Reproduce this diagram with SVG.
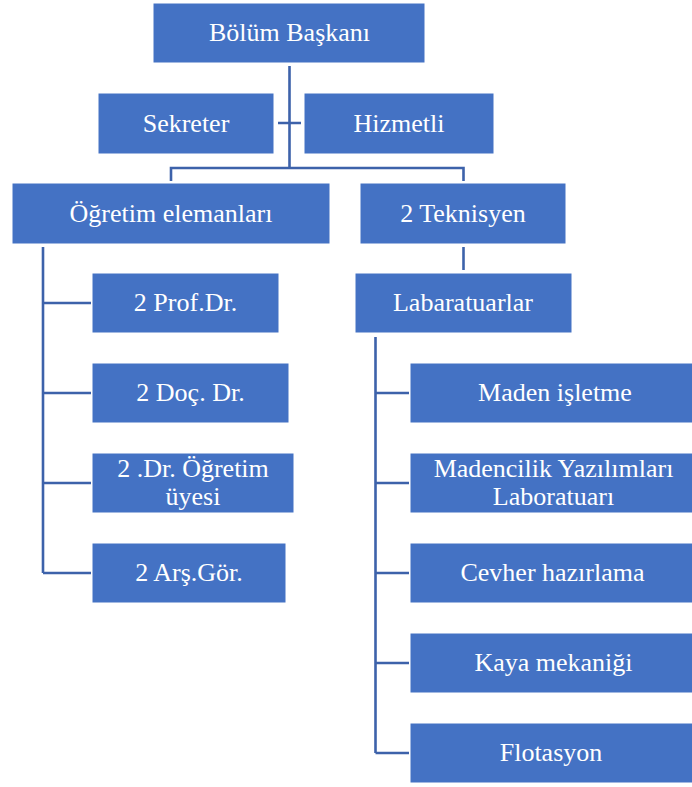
<svg xmlns="http://www.w3.org/2000/svg" width="692" height="787" viewBox="0 0 692 787">
<style>
.box{fill:#4472C4;stroke:#ffffff;stroke-width:1}
.t{font-family:"Liberation Serif","Times New Roman",serif;font-size:26px;fill:#ffffff;text-anchor:middle}
.c{fill:none;stroke:#3D62AA;stroke-width:2.6}
</style>
<rect width="692" height="787" fill="#ffffff"/>
<g id="connectors">
<path class="c" d="M289.5 66V168M278 123H301M171 181V168H463.5V181"/>
<path class="c" d="M463.5 247V270"/>
<path class="c" d="M43 247V573M43 303H91M43 393H91M43 483H91M43 573H91"/>
<path class="c" d="M375.5 337V753M375.5 393H409M375.5 483H409M375.5 573H409M375.5 663H409M375.5 753H409"/>
</g>
<g id="bolum-baskani"><rect class="box" x="153" y="3" width="272" height="60"/><text class="t" x="289.5" y="41">Bölüm Başkanı</text></g>
<g id="sekreter"><rect class="box" x="98" y="93" width="176" height="61"/><text class="t" x="186" y="131.5">Sekreter</text></g>
<g id="hizmetli"><rect class="box" x="304" y="93" width="190" height="61"/><text class="t" x="399" y="131.5">Hizmetli</text></g>
<g id="ogretim-elemanlari"><rect class="box" x="12" y="183" width="318" height="61"/><text class="t" x="171" y="221.5">Öğretim elemanları</text></g>
<g id="teknisyen"><rect class="box" x="360" y="183" width="206" height="61"/><text class="t" x="463" y="221.5">2 Teknisyen</text></g>
<g id="prof"><rect class="box" x="92" y="273" width="187" height="60"/><text class="t" x="185.5" y="311">2 Prof.Dr.</text></g>
<g id="doc"><rect class="box" x="92" y="363" width="197" height="60"/><text class="t" x="190.5" y="401">2 Doç. Dr.</text></g>
<g id="dr-ogretim"><rect class="box" x="92" y="453" width="202" height="60"/><text class="t" x="193" y="477">2 .Dr. Öğretim</text><text class="t" x="193" y="505">üyesi</text></g>
<g id="arsgor"><rect class="box" x="92" y="543" width="194" height="60"/><text class="t" x="189" y="581">2 Arş.Gör.</text></g>
<g id="labaratuarlar"><rect class="box" x="355" y="273" width="217" height="60"/><text class="t" x="463" y="311">Labaratuarlar</text></g>
<g id="maden-isletme"><rect class="box" x="410" y="363" width="286" height="60"/><text class="t" x="555" y="401">Maden işletme</text></g>
<g id="madencilik-yazilimlari"><rect class="box" x="410" y="453" width="286" height="60"/><text class="t" x="553.5" y="477">Madencilik Yazılımları</text><text class="t" x="553.5" y="505">Laboratuarı</text></g>
<g id="cevher"><rect class="box" x="410" y="543" width="286" height="60"/><text class="t" x="552.5" y="581">Cevher hazırlama</text></g>
<g id="kaya"><rect class="box" x="410" y="633" width="286" height="60"/><text class="t" x="553.5" y="671">Kaya mekaniği</text></g>
<g id="flotasyon"><rect class="box" x="410" y="723" width="286" height="60"/><text class="t" x="551" y="761">Flotasyon</text></g>
</svg>
